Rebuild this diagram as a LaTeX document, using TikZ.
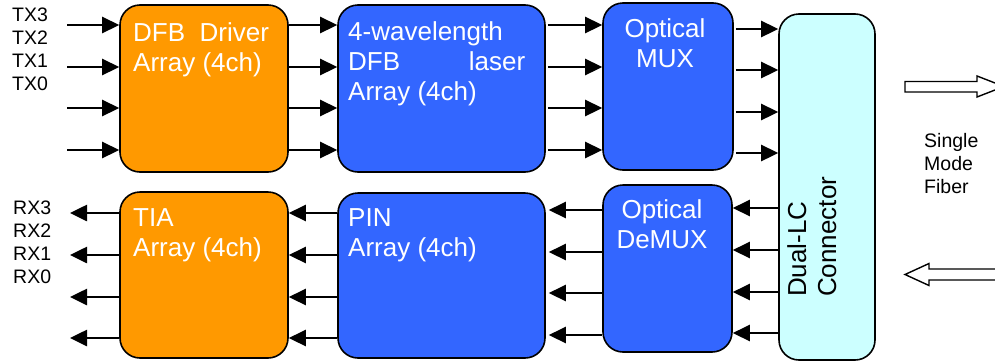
\documentclass[tikz,border=0pt]{standalone}
\usepackage{fontspec}
\setmainfont{Liberation Sans}
\usetikzlibrary{arrows.meta,calc}
\definecolor{orng}{HTML}{FF9900}
\definecolor{blu}{HTML}{3366FF}
\definecolor{cyn}{HTML}{CCFFFF}
\begin{document}
\begin{tikzpicture}[x=1pt,y=-1pt,
 blk/.style={draw=black,line width=1.6pt,rounded corners=20pt,inner sep=0pt},
 btxt/.style={text=white,font=\fontsize{26}{30}\selectfont,inner sep=0pt,align=left},
 lbl/.style={font=\fontsize{19.5}{23}\selectfont,inner sep=0pt,align=left,anchor=north west},
 arr/.style={line width=2.6pt,-{Triangle[length=17pt,width=16pt]}},
 hollow/.style={draw=black,line width=1.4pt,fill=white}]
\clip (0,0) rectangle (995,362);
\path[use as bounding box] (0,0) rectangle (995,362);
% boxes
\node[blk,fill=orng,minimum width=168pt,minimum height=167pt] (drv) at (204,88.5) {};
\node[blk,fill=blu,minimum width=207pt,minimum height=167pt] (las) at (441.5,88.5) {};
\node[blk,fill=blu,minimum width=130pt,minimum height=167pt] (mux) at (668,86.5) {};
\node[blk,fill=orng,minimum width=168pt,minimum height=166pt] (tia) at (204,275) {};
\node[blk,fill=blu,minimum width=207pt,minimum height=165pt] (pin) at (441.5,275.5) {};
\node[blk,fill=blu,minimum width=129pt,minimum height=167pt] (dmx) at (667.5,268.5) {};
\node[blk,fill=cyn,minimum width=96pt,minimum height=346pt] (con) at (827,187) {};
% box texts
\node[btxt,anchor=north west] (drvt) at (133,22.5) {DFB\ \ Driver\\Array (4ch)};
\node[btxt,anchor=north west] (last) at (348,21.5) {4-wavelength\\\hbox to 177pt{DFB\hfill laser}\\Array (4ch)};
\node[btxt,anchor=north,align=center] (muxt) at (665,18.5) {Optical\\MUX};
\node[btxt,anchor=north west] (tiat) at (133,208.5) {TIA\\Array (4ch)};
\node[btxt,anchor=north west] (pint) at (348,208.5) {PIN\\Array (4ch)};
\node[btxt,anchor=north,align=center] (dmxt) at (662,199.5) {Optical\\DeMUX};
\node[btxt,text=black,rotate=90,anchor=north west] (cont) at (787,297) {Dual-LC\\Connector};
% side labels
\node[lbl] (txl) at (12,7.5) {TX3\\TX2\\TX1\\TX0};
\node[lbl] (rxl) at (13,200.5) {RX3\\RX2\\RX1\\RX0};
\node[lbl] (smf) at (924,133) {Single\\Mode\\Fiber};
% transmit arrows
\foreach \y [count=\i] in {25,67,108,150}{
  \coordinate (ti\i) at (67,\y);
  \draw[arr] (ti\i) -- (drv.west |- ti\i);
  \draw[arr] (drv.east |- ti\i) -- (las.west |- ti\i);
  \draw[arr] (las.east |- ti\i) ++(2,0) -- (mux.west |- ti\i);
}
\foreach \y [count=\i] in {29,70,112,153}{
  \coordinate (tm\i) at (0,\y);
  \draw[arr] (mux.east |- tm\i) ++(2,0) -- (con.west |- tm\i);
}
% receive arrows
\foreach \y [count=\i] in {208,250,292,333}{
  \coordinate (rc\i) at (0,\y);
  \draw[arr] (con.west |- rc\i) -- (dmx.east |- rc\i);
}
\foreach \y [count=\i] in {210,252,293,335}{
  \coordinate (rd\i) at (0,\y);
  \draw[arr] (dmx.west |- rd\i) -- ($(pin.east |- rd\i)+(3,0)$);
}
\foreach \y [count=\i] in {213,255,297,338}{
  \coordinate (ro\i) at (70,\y);
  \draw[arr] (pin.west |- ro\i) -- (tia.east |- ro\i);
  \draw[arr] (tia.west |- ro\i) -- (ro\i);
}
% hollow fiber arrows
\draw[hollow] (905,81.5) -- (977,81.5) -- (977,76) -- (1004,86.5) -- (977,97) -- (977,92) -- (905,92) -- cycle;
\draw[hollow] (905,274.5) -- (929,263.5) -- (929,269) -- (1010,269) -- (1010,280) -- (929,280) -- (929,285.5) -- cycle;
\end{tikzpicture}
\end{document}
